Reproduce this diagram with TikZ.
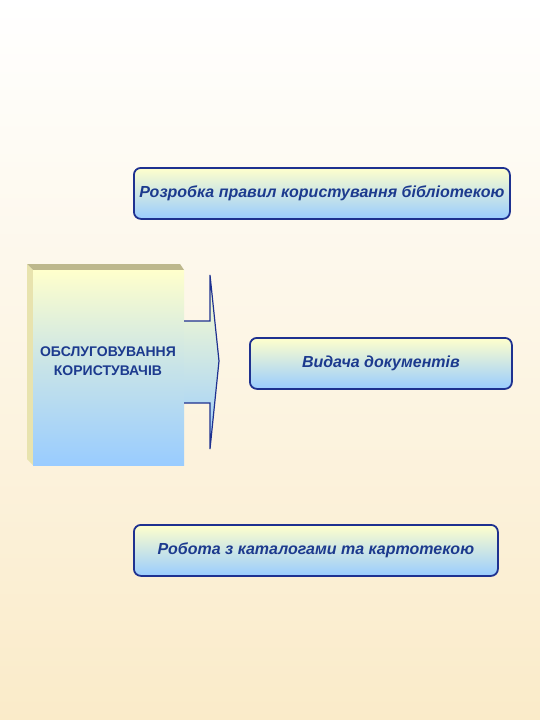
\documentclass[tikz,border=0pt]{standalone}
\usepackage{fontspec}
\setmainfont{Liberation Sans}
\begin{document}
\begin{tikzpicture}[x=1pt,y=-1pt,
  rbox/.style={draw=navyB, line width=1.8pt, rounded corners=7pt,
    top color=yel, bottom color=blu, middle color=yel!50!blu, inner sep=0pt},
  boxtxt/.style={font=\bfseries\itshape\fontsize{16}{18}\selectfont, text=navyT},
  mainlbl/.style={font=\bfseries\fontsize{14}{19}\selectfont, text=navyT, align=center}
]
\definecolor{navyT}{HTML}{1C3A8E}
\definecolor{navyB}{HTML}{1E3190}
\definecolor{yel}{HTML}{FFFFCC}
\definecolor{blu}{HTML}{99CCFF}
\definecolor{bgbot}{HTML}{FAEBC9}
\definecolor{khakiD}{HTML}{BDB88C}
\definecolor{khakiL}{HTML}{E8E3AE}
\useasboundingbox (0,0) rectangle (540,720);
\fill[top color=white, bottom color=bgbot] (0,0) rectangle (540,720);
% 3D main block
\fill[khakiD] (27,264) -- (180,264) -- (184,270) -- (33,270) -- cycle;
\fill[khakiL] (27,264) -- (33,270) -- (33,465) -- (27,459) -- cycle;
\node[minimum width=151pt, minimum height=195pt, inner sep=0pt,
  top color=yel, bottom color=blu, middle color=yel!45!blu, anchor=north west]
  (main) at (33,270) {};
\node[mainlbl] (mainlabel) at (108,361) {ОБСЛУГОВУВАННЯ\\КОРИСТУВАЧІВ};
% arrow
\path[draw=navyB, line width=1.2pt, top color=yel, bottom color=blu, middle color=yel!50!blu]
  (184,321) -- (210,321) -- (210,275) -- (219,361) -- (210,449) -- (210,403) -- (184,403);
% boxes
\node[rbox, minimum width=376pt, minimum height=51pt, anchor=north west] (b1) at (133,167) {};
\node[boxtxt] (t1) at (b1.center) {Розробка правил користування бібліотекою};
\node[rbox, minimum width=262pt, minimum height=51pt, anchor=north west] (b2) at (249,337) {};
\node[boxtxt] (t2) at (b2.center) {Видача документів};
\node[rbox, minimum width=364pt, minimum height=51pt, anchor=north west] (b3) at (133,524) {};
\node[boxtxt] (t3) at (b3.center) {Робота з каталогами та картотекою};
\end{tikzpicture}
\end{document}
